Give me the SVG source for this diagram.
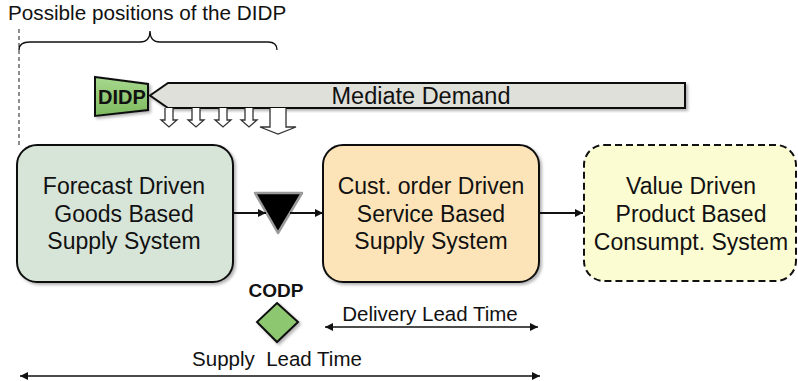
<svg xmlns="http://www.w3.org/2000/svg" width="798" height="381" viewBox="0 0 798 381">
<style>
text{font-family:"Liberation Sans",Arial,sans-serif;fill:#111}
.box{stroke:#111;stroke-width:2}
.lbl{font-size:23px;text-anchor:middle}
.mid{font-size:20.5px;text-anchor:middle}
.conn{stroke:#111;stroke-width:2;fill:none}
.thin{stroke:#111;stroke-width:1.3;fill:none}
.blk{fill:#fff;stroke:#333;stroke-width:1.3}
</style>
<defs>
<filter id="sh" x="-10%" y="-10%" width="130%" height="130%">
<feDropShadow dx="2" dy="2" stdDeviation="1.5" flood-color="#000" flood-opacity="0.3"/>
</filter>
<linearGradient id="gr" x1="0" y1="0" x2="0" y2="1">
<stop offset="0" stop-color="#a8d88e"/>
<stop offset="1" stop-color="#7dbb5e"/>
</linearGradient>
<marker id="ah" viewBox="0 0 10 10" refX="10" refY="5" markerWidth="9" markerHeight="8" markerUnits="userSpaceOnUse" orient="auto-start-reverse">
<path d="M0,0 L10,5 L0,10 z" fill="#111"/>
</marker>
</defs>

<g id="title">
<text x="8" y="20" style="font-size:20.7px">Possible positions of the DIDP</text>
<line x1="19" y1="29" x2="19" y2="146" stroke="#444" stroke-width="1.2" stroke-dasharray="4,3"/>
<path d="M19,50 Q19,42 30,42 L140,42 Q150,42 150,31 Q150,42 160,42 L268,42 Q277,42 277,50" class="thin"/>
</g>

<g id="mediate-demand">
<path d="M150,95.5 L168,83 L685,83 L685,108 L168,108 Z" fill="#dfe0da" stroke="#111" stroke-width="2" filter="url(#sh)"/>
<text x="421" y="104" style="font-size:23.5px" text-anchor="middle">Mediate Demand</text>
<path class="blk" d="M165,108 L165,120 L161,120 L169,127 L177,120 L173,120 L173,108"/>
<path class="blk" d="M192,108 L192,120 L188,120 L196,127 L204,120 L200,120 L200,108"/>
<path class="blk" d="M219,108 L219,120 L215,120 L223,127 L231,120 L227,120 L227,108"/>
<path class="blk" d="M245,108 L245,120 L241,120 L249,127 L257,120 L253,120 L253,108"/>
<path class="blk" d="M270,108 L270,127 L260,127 L278,134 L296,127 L286,127 L286,108"/>
</g>

<g id="didp">
<path d="M95,77 L148,84 L148,110 L95,116 Z" fill="url(#gr)" stroke="#111" stroke-width="2" filter="url(#sh)"/>
<text x="122" y="104" text-anchor="middle" style="font-size:20px;font-weight:bold">DIDP</text>
</g>

<g id="forecast">
<rect class="box" x="17" y="145" width="216" height="137" rx="20" fill="#d7e4d8" filter="url(#sh)"/>
<text class="lbl" x="124" y="194">Forecast Driven</text>
<text class="lbl" x="124" y="222">Goods Based</text>
<text class="lbl" x="124" y="249">Supply System</text>
</g>

<g id="custorder">
<rect class="box" x="323" y="145" width="216" height="137" rx="20" fill="#fde4b8" filter="url(#sh)"/>
<text class="lbl" x="431" y="194">Cust. order Driven</text>
<text class="lbl" x="431" y="222">Service Based</text>
<text class="lbl" x="431" y="249">Supply System</text>
</g>

<g id="value">
<rect x="584" y="145" width="212" height="136" rx="20" fill="#fcfcd2" stroke="#111" stroke-width="2" stroke-dasharray="7,4"/>
<text class="lbl" x="691" y="194">Value Driven</text>
<text class="lbl" x="691" y="222">Product Based</text>
<text class="lbl" x="691" y="250">Consumpt. System</text>
</g>

<g id="stock-point">
<path d="M255,193 L302,193 L278,233 Z" fill="#000" stroke="#9a9a9a" stroke-width="2.5" stroke-linejoin="round"/>
</g>

<g id="codp">
<text x="276" y="297" text-anchor="middle" style="font-size:19px;font-weight:bold">CODP</text>
<path d="M277,303 L298,322 L277,342 L257,322 Z" fill="#8dc870" stroke="#111" stroke-width="2" filter="url(#sh)"/>
</g>

<g id="connectors">
<line class="conn" x1="233" y1="213" x2="266" y2="213" marker-end="url(#ah)"/>
<line class="conn" x1="290" y1="213" x2="323" y2="213" marker-end="url(#ah)"/>
<line class="conn" x1="539" y1="213" x2="583" y2="213" marker-end="url(#ah)"/>
<line class="thin" x1="325" y1="327" x2="538" y2="327" marker-start="url(#ah)" marker-end="url(#ah)"/>
<line class="thin" x1="20" y1="376" x2="540" y2="376" marker-start="url(#ah)" marker-end="url(#ah)"/>
</g>

<g id="lead-times">
<text class="mid" x="430" y="321">Delivery Lead Time</text>
<text class="mid" x="277" y="366" style="white-space:pre">Supply  Lead Time</text>
</g>
</svg>
